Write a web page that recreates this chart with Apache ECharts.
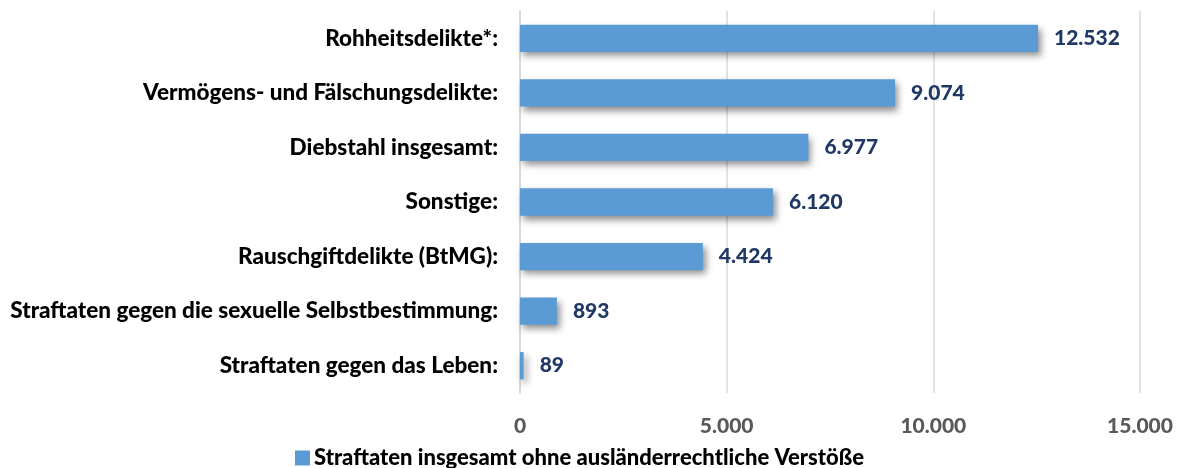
<!DOCTYPE html>
<html>
<head>
<meta charset="utf-8">
<script src="https://cdn.jsdelivr.net/npm/echarts@6/dist/echarts.min.js"></script>
<style>
  html, body { margin: 0; padding: 0; background: #fff; }
  #chart { width: 1182px; height: 468px; }
</style>
</head>
<body>
<div id="chart"></div>
<script>
// Deliktsgruppen, von unten nach oben (Kategorieachse)
const categories = [
  'Straftaten gegen das Leben:',
  'Straftaten gegen die sexuelle Selbstbestimmung:',
  'Rauschgiftdelikte (BtMG):',
  'Sonstige:',
  'Diebstahl insgesamt:',
  'Vermögens- und Fälschungsdelikte:',
  'Rohheitsdelikte*:'
];
const values = [89, 893, 4424, 6120, 6977, 9074, 12532];
const seriesName = 'Straftaten insgesamt ohne ausländerrechtliche Verstöße';
const axisMax = 15000;
const axisStep = 5000;

const fontFamily = 'Lato, "Open Sans", "Noto Sans", sans-serif';
const weight = 900;
const fmt = v => Math.round(v).toString().replace(/\B(?=(\d{3})+(?!\d))/g, '.');

const chart = echarts.init(document.getElementById('chart'));
chart.setOption({
  animation: false,
  textStyle: { fontFamily },
  grid: { left: 520, right: 42, top: 11, bottom: 75, containLabel: false },
  legend: {
    top: 442,
    left: 290,
    itemWidth: 15,
    itemHeight: 15,
    itemGap: 4,
    icon: 'rect',
    textStyle: { fontFamily, fontSize: 22, fontWeight: weight, color: '#000', padding: [0, 0, 0, -1] },
    data: [seriesName]
  },
  xAxis: {
    type: 'value',
    min: 0,
    max: axisMax,
    interval: axisStep,
    axisLine: { show: false },
    axisTick: { show: false },
    splitLine: { lineStyle: { color: '#d9d9d9', width: 1.5 } },
    axisLabel: {
      formatter: fmt,
      margin: 23,
      color: '#595959',
      fontFamily,
      fontSize: 21,
      fontWeight: weight
    }
  },
  yAxis: {
    type: 'category',
    data: categories,
    axisLine: { show: true, lineStyle: { color: '#d9d9d9', width: 2 } },
    axisTick: { show: false },
    axisLabel: {
      margin: 22,
      color: '#000',
      fontFamily,
      fontSize: 22.5,
      fontWeight: weight
    }
  },
  series: [{
    name: seriesName,
    type: 'bar',
    data: values,
    barCategoryGap: '50%',
    itemStyle: {
      color: '#5b9bd5',
      shadowColor: 'rgba(0,0,0,0.45)',
      shadowBlur: 7,
      shadowOffsetX: 3,
      shadowOffsetY: 4
    },
    label: {
      show: true,
      position: 'right',
      distance: 16,
      formatter: p => fmt(p.value),
      color: '#203864',
      fontFamily,
      fontSize: 21,
      fontWeight: weight
    }
  }]
});
</script>
</body>
</html>
